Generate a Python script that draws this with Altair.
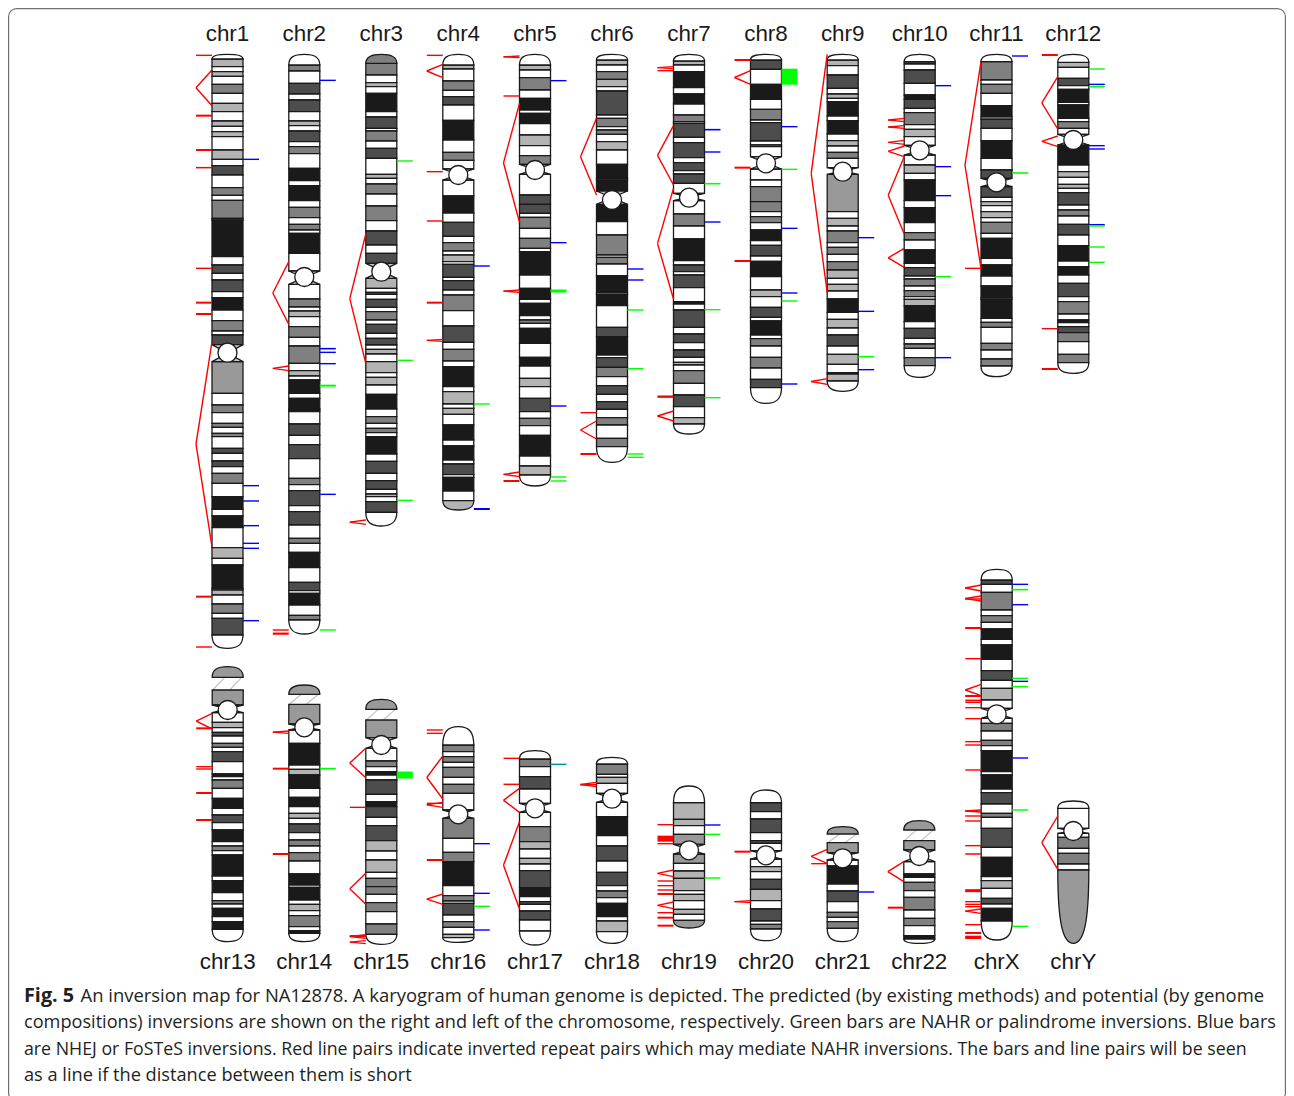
import altair as alt
import pandas as pd

FILL = {"W": "#ffffff", "D": "#1a1a1a", "K": "#4d4d4d", "M": "#808080", "L": "#b3b3b3", "A": "#999999"}
EDGE = "#1a1a1a"
HALF = 15.5
TICK = 16


def at(origin, seq):
    """Readings taken in 1/3 px steps from a given picture row."""
    return [origin + v / 3 if isinstance(v, (int, float)) else v for v in seq]


def marks(origin, seq):
    out = []
    for m in seq:
        if isinstance(m, tuple) and m[0] == "V":
            out.append(("V", origin + m[1] / 3, origin + m[2] / 3))
        elif isinstance(m, tuple):
            out.append((origin + m[0] / 3,) + m[1:])
        else:
            out.append((origin + m / 3,))
    return out


names = ["chr1", "chr2", "chr3", "chr4", "chr5", "chr6", "chr7", "chr8", "chr9", "chr10", "chr11", "chr12",
         "chr13", "chr14", "chr15", "chr16", "chr17", "chr18", "chr19", "chr20", "chr21", "chr22", "chrX", "chrY"]
centers = [227.5, 304.3, 381.3, 458.3, 535, 612, 689, 766, 842.7, 919.7, 996.5, 1073.3,
           227.7, 304.3, 381.3, 458.3, 535, 612, 689, 766, 842.7, 919.3, 996.7, 1073.3]
cen_y = [352.7, 277, 271.7, 175, 170, 200, 197.7, 163.3, 171.7, 150.3, 182.3, 140,
         710, 727.3, 745, 814.3, 808.3, 798.7, 850.3, 855.3, 858.3, 856, 714.3, 831]

chr1_bands = at(15, [118,"W",132,"L",155,"W",170,"L",184,"W",208,"M",235,"W",265,"L",290,"W",318,"L",334,"W",350,"L",365,"W",405,"L",433,"W",452,"K",480,"W",518,"M",541,"W",556,"M",610,"W",615,"D",725,"W",750,"K",775,"W",795,"K",830,"W",848,"D",885,"W",917,"M",948,"W"]) + at(330, [15,"K",44,"_",95,"A",190,"W",225,"M",248,"W",280,"M",292,"W",310,"M",320,"W",355,"K",370,"W",393,"K",410,"W",430,"M",460,"W",500,"D",538,"W",558,"D",593,"W",653,"L",685,"W",705,"D",775,"W",780,"L",795,"W",822,"M",850,"W",865,"K",915,"W",955])
chr2_bands = at(15, [118,"W",150,"M",168,"W",205,"K",237,"W",255,"K",290,"W",318,"L",332,"W",348,"K",380,"W",395,"M",416,"W",460,"D",497,"W",512,"D",557,"W",577,"M",608,"W",628,"M",645,"W",655,"D",715,"W",768,"_",808,"W",852,"M",876,"W",888,"L",905,"W",935,"M"]) + at(330, [22,"W",48,"M",100,"W",122,"L",138,"W",150,"D",190,"W",205,"D",236,"W",240,"D",245,"W",282,"K",316,"W",344,"K",386,"W",445,"M",464,"W",482,"K",527,"W",545,"K",585,"W",625,"M",640,"W",667,"D",713,"W",757,"K",782,"W",790,"D",825,"W",856,"M",870,"W",912])
chr3_bands = at(15, [118,"M",145,"M",180,"W",203,"L",215,"W",235,"D",290,"W",306,"K",340,"W",348,"M",378,"W",400,"K",430,"W",478,"L",490,"W",507,"M",537,"W",573,"M",617,"W",648,"K",690,"W",715,"K",745,"_"]) + at(260, [55,"L",85,"W",97,"K",103,"W",118,"K",142,"W",155,"M",180,"W",193,"K",220,"W",235,"K",255,"W",268,"L",282,"W",305,"L",338,"W",352,"L",375,"W",403,"D",447,"W",470,"M",490,"W",505,"M",518,"W",530,"D",582,"W",604,"K",640,"W",662,"K",688,"W",702,"L",710,"W",725,"K",757,"W",798])
chr4_bands = at(15, [118,"W",150,"L",162,"W",198,"M",226,"W",245,"K",270,"W",316,"D",375,"W",412,"M",436,"W",462,"_",495,"W",543,"D",594,"W",622,"K",664,"W",683,"M",708,"W",720,"L",740,"W",748,"K"]) + at(260, [52,"W",62,"K",90,"W",105,"M",152,"W",198,"K",247,"W",268,"M",303,"W",320,"D",380,"W",395,"L",432,"W",445,"L",463,"W",495,"D",540,"W",558,"D",600,"W",612,"K",644,"W",652,"D",693,"W",722,"L",750])
chr5_bands = at(15, [118,"W",150,"L",165,"W",188,"M",225,"W",250,"D",285,"W",295,"D",326,"W",360,"L",392,"W",422,"M",448,"_",478,"W",540,"K",568,"K",595,"W",607,"M",640,"W",670,"M",700,"W",710,"D"]) + at(260, [45,"W",85,"D",118,"W",130,"D",167,"W",180,"M",190,"W",205,"D",250,"W",292,"D",318,"W",355,"L",380,"W",415,"K",455,"W",475,"M",497,"W",526,"D",588,"W",618,"L",645,"W",678])
chr6_bands = at(15, [118,"W",135,"L",150,"W",170,"M",193,"L",215,"W",228,"K",300,"W",310,"M",335,"W",345,"M",358,"W",380,"L",405,"W",448,"D",490,"W",495,"D",528,"_",568,"D",620,"W",660,"M",720,"W",727,"M"]) + at(260, [12,"W",47,"D",97,"M",103,"D",137,"W",202,"K",230,"D",285,"W",293,"K",322,"M",350,"W",377,"K",403,"W",425,"K",448,"W",473,"M",495,"W",535,"M",560,"W",607])
chr7_bands = at(20, [103,"W",123,"L",135,"W",155,"D",203,"W",222,"D",252,"W",285,"M",305,"W",310,"K",352,"W",368,"K",413,"W",428,"K",452,"W",462,"K",490,"W",520,"_",542,"W",582,"M"]) + at(220, [18,"W",57,"D",122,"W",135,"K",155,"W",165,"K",203,"W",245,"D",252,"W",270,"K",322,"W",342,"K",368,"W",390,"K",412,"W",427,"L",435,"W",452,"M",490,"W",525,"K",560,"W",593,"L",612,"W",642])
chr8_bands = at(20, [103,"W",120,"K",148,"W",193,"D",238,"W",268,"M",300,"W",308,"K",363,"W",375,"L",380,"W",410,"_",447,"W",480,"W",500,"M",545,"M",575,"W",590,"M"]) + at(220, [8,"W",30,"D",62,"W",76,"K",108,"W",124,"D",170,"W",210,"L",230,"W",262,"K",292,"W",303,"D",345,"W",356,"M",378,"W",412,"M",444,"W",478,"K",503,"W",550])
chr9_bands = at(20, [103,"W",120,"L",137,"W",165,"K",205,"W",222,"L",235,"W",245,"D",288,"W",302,"D",342,"W",362,"L",378,"W",397,"M",415,"W",443,"_",463,"A",575,"W",595,"L"]) + at(220, [18,"W",33,"M",68,"W",82,"M",103,"W",125,"M",150,"L",175,"W",193,"L",213,"W",237,"D",277,"W",298,"L",324,"W",345,"K",378,"W",403,"L",433,"W",458,"D",462,"L",483,"W",514])
chr10_bands = at(40, [43,"W",65,"K",72,"W",90,"K",130,"W",165,"D",178,"K",205,"W",218,"M",254,"W",268,"L",290,"W",316,"_",345,"W",375,"L",400,"W",420,"D",482,"W",503,"D",548,"W",578,"M",600,"W",630,"D",670,"W",683,"K",708,"W",717,"M",738,"W",752,"M",770,"W",778,"L",797,"D",845,"W",865,"K",895,"W",912,"M",925,"W",953,"M",977,"W",1012])
chr11_bands = at(40, [43,"W",65,"M",120,"W",133,"M",160,"W",197,"D",230,"M",238,"K",265,"W",302,"D",355,"W",390,"K",415,"_",440,"K",472,"W",485,"L",497,"W",515,"L",533,"W",547,"M",580,"W",595,"D",655,"W",675,"D",708,"W",738,"D",773,"K",778,"D",835,"W",847,"M",862,"W",910,"M",930,"W",957,"M",978,"W",1010])
chr12_bands = at(40, [43,"W",67,"L",82,"W",115,"K",137,"W",148,"D",187,"W",195,"D",235,"W",245,"M",265,"W",283,"_",315,"D",375,"W",395,"L",412,"W",433,"L",445,"W",458,"K",495,"W",510,"M",528,"W",553,"K",585,"W",617,"D",663,"W",680,"D",705,"W",730,"K",770,"W",785,"M",822,"W",840,"D",848,"W",860,"K",878,"M",905,"W",943,"M",968,"W",1000])
chr13_bands = at(660, [20,"A",52,"/",90,"A",135,"_",158,"W",187,"L",203,"W",217,"K",228,"W",250,"M",262,"W",275,"K",305,"W",342,"D",350,"W",360,"M",385,"W",415,"D",445,"W",465,"K",488,"W",510,"D",545,"W",558,"M",572,"W",585,"D",648,"W",662,"D",698,"W",722,"M",732,"W",745,"D",770,"W",785,"D",808,"W",845])
chr14_bands = at(660, [75,"A",103,"/",133,"A",192,"_",210,"W",250,"D",315,"W",328,"L",345,"D",385,"W",412,"D",440,"W",460,"L",475,"W",492,"K",518,"W",540,"M",558,"W",578,"M",603,"W",642,"D",675,"W",682,"D",720,"W",733,"L",752,"W",767,"M",800,"W",812,"D",820,"W",845])
chr15_bands = at(660, [118,"A",148,"/",180,"A",233,"_",265,"W",303,"M",320,"W",335,"D",345,"W",360,"K",403,"W",425,"D",440,"K",472,"W",497,"K",542,"L",573,"W",600,"L",637,"W",655,"M",680,"M",703,"W",728,"M",755,"W",792,"M",823,"W",853])
chr16_bands = at(720, [20,"W",75,"M",95,"W",110,"M",127,"W",142,"M",172,"W",193,"M",220,"W",270,"_",295,"M",355,"W",397,"M",425,"D",497,"W",527,"M",543,"W",550,"K",585,"W",605,"M",622,"W",643,"L",653,"W",667])
chr17_bands = at(720, [92,"W",117,"M",140,"W",170,"K",207,"W",250,"_",277,"W",320,"M",365,"L",387,"W",415,"L",432,"W",452,"K",503,"D",530,"W",545,"K",553,"W",573,"K",600,"W",633,"W",675])
chr18_bands = at(720, [112,"W",132,"M",163,"W",172,"L",190,"W",220,"_",247,"W",290,"D",347,"W",378,"K",423,"W",457,"K",497,"W",513,"M",533,"W",550,"D",590,"W",603,"L",635,"W",670])
chr19_bands = at(780, [18,"W",68,"L",118,"L",137,"W",163,"A",193,"_",222,"A",250,"W",273,"L",295,"L",332,"W",343,"L",362,"W",388,"L",403,"W",421,"A",444])
chr20_bands = at(780, [30,"W",68,"K",95,"W",117,"K",158,"W",182,"K",190,"W",212,"_",237,"W",260,"L",275,"W",298,"K",328,"L",362,"W",387,"K",423,"W",433,"M",447,"W",482])
chr21_bands = at(780, [140,"A",162,"/",188,"A",218,"_",240,"W",258,"D",312,"W",333,"K",365,"W",397,"M",412,"W",425,"M",445,"W",485])
chr22_bands = at(560, [782,"A",810,"/",842,"A",870,"_",905,"W",942,"D",952,"W",967,"M",992,"W",1012,"M",1050,"W",1075,"M",1097,"W",1127,"D",1137,"W",1150])
chrX_bands = at(560, [28,"W",60,"K",73,"W",97,"M",150,"W",167,"M",187,"W",207,"D",238,"W",255,"D",298,"W",332,"K",361,"W",385,"L",420,"W",445,"_",475,"W",490,"M",513,"W",541,"M",557,"W",572,"D",635,"W",645,"D",687,"W",698,"K",732,"W",760,"M",772,"W",805,"K",862,"W",892,"D",950,"W",962,"L",985,"W",1015,"K",1032,"W",1045,"D",1083,"W",1140])
chrY_bands = at(560, [723,"W",745,"W",805,"_",820,"W",832,"M",865,"W",880,"M",912,"W",930,"A",1150])

all_bands = [chr1_bands, chr2_bands, chr3_bands, chr4_bands, chr5_bands, chr6_bands, chr7_bands, chr8_bands,
             chr9_bands, chr10_bands, chr11_bands, chr12_bands, chr13_bands, chr14_bands, chr15_bands,
             chr16_bands, chr17_bands, chr18_bands, chr19_bands, chr20_bands, chr21_bands, chr22_bands,
             chrX_bands, chrY_bands]

# Repeat pairs on the left: y -> single line, (y, width) -> line of that width, ("V", a, b) -> line pair
left_marks = {
    "chr1": marks(15, [121, ("V", 165, 272), (302, 2), (405, 2), (458, 1.5), 760, (863, 2), (897, 2)]) + marks(330, [("V", 35, 650), (800, 2), 951]),
    "chr2": marks(15, [("V", 740, 928)]) + marks(330, [("V", 108, 122), 900, (911, 2.2)]),
    "chr3": marks(330, [("V", -288, 100), ("V", 570, 583)]),
    "chr4": marks(15, [121, ("V", 148, 188), 470, 618]) + marks(260, [(128, 2), ("V", 238, 244)]),
    "chr5": marks(15, [("V", 123, 128), 243, ("V", 265, 622)]) + marks(260, [("V", 90, 97), ("V", 636, 650), (663, 2)]),
    "chr6": marks(15, [("V", 310, 540)]) + marks(260, [458, ("V", 483, 537), (582, 2)]),
    "chr7": marks(20, [("V", 140, 146), 152, ("V", 317, 495)]) + marks(220, [("V", -95, 237), (530, 2.4), ("V", 573, 603)]),
    "chr8": marks(20, [(120, 2), ("V", 152, 193), (443, 2)]) + marks(220, [(123, 2)]),
    "chr9": marks(220, [("V", -497, 217), ("V", 476, 493)]),
    "chr10": marks(40, [("V", 235, 245), ("V", 257, 265), ("V", 301, 313), ("V", 318, 350), ("V", 350, 582), ("V", 625, 682)]),
    "chr11": marks(40, [("V", 65, 685), 685]),
    "chr12": marks(40, [(45, 2), ("V", 110, 267), ("V", 288, 320), 866, (987, 2)]),
    "chr13": marks(660, [("V", 160, 207), (205, 2), 320, 327, (399, 2), (480, 2)]),
    "chr14": marks(660, [("V", 213, 220), (326, 2), (582, 2)]),
    "chr15": marks(660, [("V", 265, 353), 442, ("V", 640, 733), ("V", 824, 835), (828, 2), ("V", 842, 851)]),
    "chr16": marks(720, [30, 40, ("V", 108, 237), ("V", 247, 262), 250, (420, 2), ("V", 522, 553)]),
    "chr17": marks(720, [115, (193, 1.5), ("V", 205, 277), ("V", 305, 567)]),
    "chr18": marks(720, [("V", 187, 200), 194]),
    "chr19": marks(780, [134, (176, 6), 191, ("V", 270, 290), 303, 317, 330, (342, 2), ("V", 366, 386), 398, (413, 2), (437, 2)]),
    "chr20": marks(780, [(215, 2), ("V", 362, 368)]),
    "chr21": marks(780, [("V", 208, 250), 251]),
    "chr22": marks(560, [("V", 905, 965), (1043, 2)]),
    "chrX": marks(560, [("V", 75, 93), ("V", 108, 123), 117, (204, 2), 296, ("V", 373, 407), (408, 2), (421, 1.5), (427, 1.5), 443, 476, 545, 555, 630, ("V", 750, 756), 768, 783, 857, (882, 1.5), (992, 3), 1025, 1033, 1040, ("V", 1047, 1060), 1094, (1119, 2), (1130, 2), (1134, 2)]),
    "chrY": marks(560, [("V", 768, 928)]),
}

BLUE, GREEN, TEAL = "#0000ff", "#00ff00", "#0090a0"
# Predicted inversions on the right: (y, colour[, width])
right_marks = {
    "chr1": marks(15, [(433, BLUE)]) + marks(330, [(467, BLUE), (513, BLUE), (587, BLUE), (640, BLUE), (655, BLUE), (872, BLUE)]),
    "chr2": marks(15, [(196, BLUE)]) + marks(330, [(56, BLUE, 1.6), (67, BLUE), (101, BLUE), (167, GREEN, 2), (493, BLUE), (900, GREEN)]),
    "chr3": marks(15, [(438, GREEN)]) + marks(330, [(91, GREEN), (511, GREEN)]),
    "chr4": marks(15, [(753, BLUE)]) + marks(260, [(432, GREEN), (747, BLUE, 2)]),
    "chr5": marks(15, [(197, BLUE), (683, BLUE)]) + marks(260, [(93, GREEN, 3), (438, BLUE), (651, GREEN, 1.4), (663, GREEN)]),
    "chr6": marks(15, [(762, BLUE)]) + marks(260, [(60, BLUE), (150, GREEN), (326, GREEN), (582, GREEN, 1.4), (592, GREEN)]),
    "chr7": marks(20, [(329, BLUE, 1.6), (396, BLUE), (491, GREEN, 1.6), (606, BLUE)]) + marks(220, [(269, GREEN), (533, GREEN)]),
    "chr8": marks(20, [(170, GREEN, 16), (320, BLUE), (448, GREEN), (625, BLUE)]) + marks(220, [(219, BLUE), (243, GREEN), (492, BLUE)]),
    "chr9": marks(220, [(53, BLUE), (274, BLUE), (410, GREEN), (449, BLUE)]),
    "chr10": marks(40, [(137, BLUE), (380, BLUE), (467, BLUE), (710, GREEN), (953, BLUE)]),
    "chr11": marks(40, [(48, BLUE), (399, GREEN, 1.6)]),
    "chr12": marks(40, [(87, GREEN), (133, BLUE), (140, GREEN, 1.6), (317, BLUE), (327, BLUE), (554, BLUE), (558, GREEN), (621, GREEN), (667, GREEN)]),
    "chr14": marks(660, [(326, GREEN, 1.6)]),
    "chr15": marks(660, [(345, GREEN, 7)]),
    "chr16": marks(720, [(371, BLUE), (520, BLUE), (559, GREEN), (630, BLUE)]),
    "chr17": marks(720, [(133, TEAL)]),
    "chr19": marks(780, [(135, BLUE), (163, GREEN), (294, GREEN)]),
    "chr21": marks(780, [(336, BLUE)]),
    "chrX": marks(560, [(73, BLUE), (89, GREEN, 1.6), (134, BLUE), (355, GREEN), (364, BLUE), (380, GREEN), (594, BLUE), (750, GREEN), (1099, GREEN)]),
}

caption_bold = "Fig. 5"
caption_lines = [
    "An inversion map for NA12878. A karyogram of human genome is depicted. The predicted (by existing methods) and potential (by genome",
    "compositions) inversions are shown on the right and left of the chromosome, respectively. Green bars are NAHR or palindrome inversions. Blue bars",
    "are NHEJ or FoSTeS inversions. Red line pairs indicate inverted repeat pairs which may mediate NAHR inversions. The bars and line pairs will be seen",
    "as a line if the distance between them is short",
]
caption_y = [1001.5, 1028, 1054.5, 1081]
caption_x = [80.5, 24, 24, 24]
caption_size = [18.45, 18.15, 17.75, 18.2]

# ---- tables built from the readings ----
rects, caps, hourglass, hatch, circles, labels, red, right = [], [], [], [], [], [], [], []


def cap_path(h, up):
    s = -1 if up else 1
    a, b = f"{s * h * 0.7:.3f}", f"{s * h:.3f}"
    return f"M-1 0 C-1 {a} -0.7 {b} 0 {b} C0.7 {b} 1 {a} 1 0 Z"


for i, (name, xc, cy, seq) in enumerate(zip(names, centers, cen_y, all_bands)):
    xl, xr = xc - HALF, xc + HALF
    ys, codes = seq[0::2], seq[1::2]
    for j, code in enumerate(codes):
        y0, y1 = ys[j], ys[j + 1]
        if j == 0:
            caps.append({"x": xc, "y": y1, "fill": FILL[code], "shape": cap_path((y1 - y0) / HALF, True)})
        elif j == len(codes) - 1:
            caps.append({"x": xc, "y": y0, "fill": FILL[code], "shape": cap_path((y1 - y0) / HALF, False)})
        elif code == "_":
            g = (y1 - y0) / 2 / HALF
            hourglass.append({"x": xc, "y": (y0 + y1) / 2,
                              "shape": f"M-1 {-g:.3f} L1 {-g:.3f} L-1 {g:.3f} L1 {g:.3f} Z"})
        elif code == "/":
            hatch.append({"x": xc - 3, "x2": xc - 15, "y": y0, "y2": y1})
            hatch.append({"x": xc + 14, "x2": xc + 2, "y": y0, "y2": y1})
        else:
            rects.append({"x": xl, "x2": xr, "y": y0, "y2": y1, "fill": FILL[code]})
    circles.append({"x": xc, "y": cy})
    row = i // 12
    labels.append({"x": xc, "y": 40.5 if row == 0 else 969, "t": name})
    for m in left_marks.get(name, []):
        if m[0] == "V":
            ya, yb = m[1], m[2]
            ym = (ya + yb) / 2
            red.append({"x": xl - TICK, "x2": xl, "y": ym, "y2": ya, "w": 1.4})
            red.append({"x": xl - TICK, "x2": xl, "y": ym, "y2": yb, "w": 1.4})
        else:
            w = m[1] if len(m) > 1 else 1.4
            red.append({"x": xl - TICK, "x2": xl, "y": m[0], "y2": m[0], "w": w})
    for m in right_marks.get(name, []):
        w = m[2] if len(m) > 2 else 1.4
        right.append({"x": xr, "x2": xr + TICK, "y": m[0], "y2": m[0], "w": w, "c": m[1]})

X = alt.X("x:Q", scale=alt.Scale(domain=[8, 1286]), axis=None)
Y = alt.Y("y:Q", scale=alt.Scale(domain=[1096, 8]), axis=None)
CAP_SIZE = (2 * HALF) ** 2
W = alt.StrokeWidth("w:Q", scale=None)

card = alt.Chart(pd.DataFrame([{"x": 8.6, "x2": 1285.4, "y": 8.6, "y2": 1101}])).mark_rect(
    fill="white", stroke="#707070", strokeWidth=1.2, cornerRadius=8, clip=False
).encode(x=X, x2="x2:Q", y=Y, y2="y2:Q")

hatch_layer = alt.Chart(pd.DataFrame(hatch)).mark_rule(color="#c4c4c4", strokeWidth=1.2).encode(x=X, x2="x2:Q", y=Y, y2="y2:Q")

cap_layer = alt.Chart(pd.DataFrame(caps)).mark_point(filled=True, opacity=1, size=CAP_SIZE, stroke=EDGE, strokeWidth=1.3).encode(
    x=X, y=Y, fill=alt.Fill("fill:N", scale=None), shape=alt.Shape("shape:N", scale=None))

band_layer = alt.Chart(pd.DataFrame(rects)).mark_rect(stroke=EDGE, strokeWidth=1.3).encode(
    x=X, x2="x2:Q", y=Y, y2="y2:Q", fill=alt.Fill("fill:N", scale=None))

glass_layer = alt.Chart(pd.DataFrame(hourglass)).mark_point(filled=True, opacity=1, size=CAP_SIZE, fill="#c8c8c8", stroke=EDGE, strokeWidth=1.3).encode(
    x=X, y=Y, shape=alt.Shape("shape:N", scale=None))

circle_layer = alt.Chart(pd.DataFrame(circles)).mark_point(shape="circle", filled=True, opacity=1, size=361, fill="white", stroke=EDGE, strokeWidth=1.3).encode(x=X, y=Y)

red_layer = alt.Chart(pd.DataFrame(red)).mark_rule(color="#ff0000").encode(x=X, x2="x2:Q", y=Y, y2="y2:Q", strokeWidth=W)
right_layer = alt.Chart(pd.DataFrame(right)).mark_rule().encode(x=X, x2="x2:Q", y=Y, y2="y2:Q", strokeWidth=W, color=alt.Color("c:N", scale=None))

label_layer = alt.Chart(pd.DataFrame(labels)).mark_text(font="Liberation Sans", fontSize=22.4, color="#1a1a1a", align="center", baseline="alphabetic").encode(x=X, y=Y, text="t:N")

cap_df = pd.DataFrame({"x": caption_x, "y": caption_y, "t": caption_lines, "s": caption_size})
caption_layer = alt.Chart(cap_df).mark_text(font="Open Sans", color="#231f20", align="left", baseline="alphabetic").encode(
    x=X, y=Y, text="t:N", size=alt.Size("s:Q", scale=None))
bold_layer = alt.Chart(pd.DataFrame({"x": [24], "y": [1001.5], "t": [caption_bold]})).mark_text(font="Open Sans", fontWeight="bold", fontSize=19.8, color="#231f20", align="left", baseline="alphabetic").encode(x=X, y=Y, text="t:N")

chart = alt.layer(card, hatch_layer, band_layer, cap_layer, glass_layer, circle_layer, red_layer, right_layer,
                  label_layer, caption_layer, bold_layer).properties(
    width=1278, height=1088, padding=0, autosize=alt.AutoSizeParams(type="none")
).configure_view(strokeWidth=0)

chart.save("out.html", embed_options={"renderer": "svg", "actions": False})
